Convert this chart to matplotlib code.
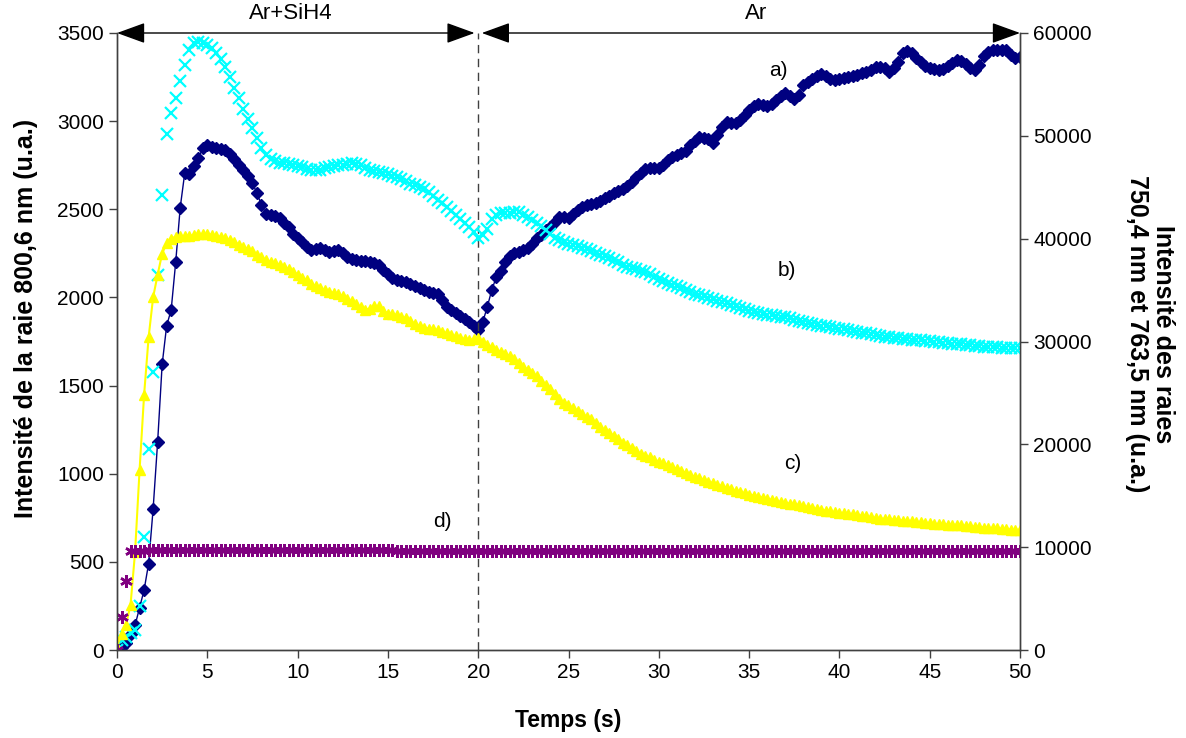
import numpy as np
import matplotlib
matplotlib.use("Agg")
import matplotlib.pyplot as plt

plt.rcParams['font.family'] = ['Liberation Sans', 'DejaVu Sans']

# sampling step of the acquisition (s)
dt = 0.25

# a) raie 800,6 nm (axe de gauche, u.a.)
raie_a = [
    0, 15, 40, 90, 140, 240, 340, 490,
    800, 1180, 1620, 1840, 1930, 2200, 2510, 2705,
    2700, 2745, 2790, 2845, 2862, 2852, 2846, 2842,
    2835, 2815, 2785, 2750, 2722, 2690, 2650, 2590,
    2525, 2475, 2470, 2462, 2450, 2420, 2400, 2360,
    2335, 2315, 2285, 2268, 2275, 2280, 2268, 2260,
    2262, 2268, 2250, 2230, 2220, 2212, 2208, 2204,
    2200, 2196, 2185, 2155, 2133, 2112, 2099, 2094,
    2090, 2078, 2065, 2053, 2040, 2030, 2026, 2018,
    1985, 1948, 1930, 1913, 1896, 1880, 1862, 1840,
    1815, 1860, 1945, 2042, 2115, 2150, 2200, 2235,
    2252, 2260, 2269, 2282, 2305, 2335, 2355, 2380,
    2402, 2430, 2456, 2455, 2450, 2475, 2498, 2512,
    2524, 2528, 2533, 2548, 2565, 2578, 2592, 2604,
    2617, 2630, 2655, 2683, 2705, 2728, 2733, 2733,
    2733, 2750, 2778, 2795, 2808, 2820, 2833, 2862,
    2890, 2910, 2907, 2898, 2877, 2920, 2965, 2996,
    2990, 2992, 3007, 3035, 3065, 3085, 3100, 3090,
    3085, 3100, 3118, 3145, 3160, 3140, 3125, 3150,
    3205, 3222, 3240, 3255, 3270, 3258, 3240, 3234,
    3238, 3243, 3250, 3256, 3263, 3272, 3280, 3292,
    3305, 3309, 3300, 3280, 3300, 3337, 3385, 3400,
    3385, 3360, 3335, 3315, 3300, 3296, 3290, 3298,
    3312, 3330, 3345, 3340, 3322, 3300, 3290, 3320,
    3370, 3395, 3404, 3406, 3404, 3402, 3378, 3357,
    3364,
]

# b) raie 750,4 nm (axe de droite, u.a.)
raie_b = [
    0, 1000, 1300, 1650, 1950, 4300, 11000, 19500,
    27000, 36500, 44200, 50200, 52200, 53700, 55300, 56900,
    58300, 59000, 59150, 59050, 58800, 58500, 58050, 57450,
    56650, 55700, 54650, 53700, 52650, 51600, 50750, 49750,
    48850, 48100, 47750, 47530, 47400, 47320, 47220, 47150,
    47050, 46950, 46780, 46680, 46650, 46680, 46830, 46980,
    47050, 47130, 47200, 47300, 47330, 47250, 47130, 46900,
    46700, 46600, 46520, 46400, 46260, 46110, 45960, 45800,
    45580, 45360, 45220, 45070, 44800, 44520, 44180, 43800,
    43420, 43070, 42720, 42350, 41960, 41530, 41090, 40620,
    40100, 40400, 40900, 41900, 42350, 42450, 42460, 42500,
    42580, 42550, 42300, 42070, 41800, 41520, 41200, 40880,
    40470, 40050, 39850, 39650, 39500, 39390, 39250, 39100,
    38950, 38800, 38650, 38460, 38280, 38100, 37910, 37720,
    37440, 37260, 37150, 37020, 36880, 36720, 36550, 36320,
    36050, 35870, 35700, 35530, 35350, 35170, 34990, 34800,
    34650, 34510, 34380, 34250, 34110, 33980, 33850, 33710,
    33570, 33430, 33290, 33150, 33000, 32870, 32770, 32690,
    32620, 32550, 32480, 32420, 32360, 32250, 32130, 32020,
    31910, 31800, 31700, 31600, 31530, 31460, 31390, 31320,
    31250, 31190, 31130, 31050, 30960, 30870, 30780, 30690,
    30600, 30510, 30450, 30400, 30360, 30320, 30280, 30240,
    30190, 30150, 30110, 30060, 30010, 29970, 29920, 29880,
    29840, 29800, 29750, 29710, 29660, 29620, 29580, 29530,
    29490, 29470, 29450, 29420, 29400, 29380, 29360, 29340,
    29330,
]

# c) raie 763,5 nm (axe de droite, u.a.)
raie_c = [
    300, 1600, 2450, 4400, 9500, 17500, 24800, 30400,
    34300, 36500, 38550, 39550, 40000, 40200, 40260, 40250,
    40260, 40320, 40420, 40450, 40450, 40380, 40280, 40170,
    40020, 39880, 39650, 39430, 39210, 39000, 38780, 38450,
    38180, 37950, 37740, 37600, 37450, 37250, 37030, 36800,
    36500, 36200, 35950, 35600, 35380, 35170, 35000, 34860,
    34720, 34580, 34390, 34160, 33920, 33620, 33350, 33100,
    33200, 33450, 33450, 33000, 32720, 32650, 32570, 32420,
    32270, 32000, 31700, 31500, 31360, 31250, 31180, 31100,
    30950, 30800, 30650, 30500, 30370, 30200, 30150, 30230,
    30300, 30000, 29700, 29450, 29200, 29000, 28800, 28550,
    28250, 27900, 27550, 27250, 26950, 26600, 26150, 25800,
    25350, 24850, 24380, 24050, 23800, 23530, 23250, 22950,
    22680, 22420, 22080, 21720, 21400, 21100, 20830, 20500,
    20170, 19900, 19620, 19330, 19080, 18900, 18720, 18520,
    18330, 18160, 17980, 17800, 17600, 17420, 17230, 17030,
    16850, 16680, 16520, 16360, 16220, 16080, 15930, 15780,
    15630, 15480, 15350, 15230, 15120, 15010, 14920, 14810,
    14700, 14590, 14470, 14380, 14300, 14230, 14160, 14090,
    13980, 13880, 13790, 13700, 13620, 13540, 13470, 13390,
    13330, 13290, 13240, 13180, 13130, 13070, 12990, 12910,
    12840, 12780, 12740, 12700, 12660, 12630, 12590, 12550,
    12510, 12480, 12430, 12370, 12310, 12260, 12240, 12220,
    12200, 12180, 12160, 12110, 12070, 12030, 11990, 11950,
    11910, 11880, 11850, 11820, 11780, 11740, 11710, 11670,
    11640,
]

# d) (axe de droite, u.a.)
raie_d = [
    0, 3200, 6700, 9600, 9650, 9660, 9670, 9680,
    9690, 9700, 9700, 9710, 9710, 9720, 9720, 9720,
    9730, 9730, 9730, 9740, 9740, 9740, 9740, 9740,
    9740, 9740, 9740, 9730, 9730, 9730, 9730, 9730,
    9720, 9720, 9720, 9720, 9710, 9710, 9710, 9710,
    9710, 9700, 9700, 9700, 9700, 9700, 9700, 9690,
    9690, 9690, 9690, 9690, 9690, 9690, 9680, 9680,
    9680, 9680, 9680, 9680, 9680, 9680, 9670, 9670,
    9670, 9670, 9670, 9670, 9670, 9670, 9670, 9660,
    9660, 9660, 9660, 9660, 9660, 9660, 9660, 9660,
    9660, 9660, 9650, 9650, 9650, 9650, 9650, 9650,
    9650, 9650, 9650, 9650, 9650, 9650, 9650, 9650,
    9650, 9650, 9640, 9640, 9640, 9640, 9640, 9640,
    9640, 9640, 9640, 9640, 9640, 9640, 9640, 9640,
    9640, 9640, 9640, 9640, 9640, 9640, 9640, 9640,
    9640, 9640, 9640, 9630, 9630, 9630, 9630, 9630,
    9630, 9630, 9630, 9630, 9630, 9630, 9630, 9630,
    9630, 9630, 9630, 9630, 9630, 9630, 9630, 9630,
    9630, 9630, 9630, 9630, 9630, 9630, 9630, 9630,
    9630, 9630, 9630, 9630, 9630, 9630, 9630, 9630,
    9620, 9620, 9620, 9620, 9620, 9620, 9620, 9620,
    9620, 9620, 9620, 9620, 9620, 9620, 9620, 9620,
    9620, 9620, 9620, 9620, 9620, 9620, 9620, 9620,
    9620, 9620, 9620, 9620, 9620, 9620, 9620, 9620,
    9620, 9620, 9620, 9620, 9620, 9620, 9620, 9620,
    9620,
]

temps = np.arange(len(raie_a)) * dt

fs = 15
fig = plt.figure(figsize=(11.86, 7.38), dpi=100)
ax = fig.add_axes([117 / 1186, 1 - 650 / 738, 903 / 1186, 617 / 738])
ax2 = ax.twinx()

ax.plot(temps, raie_a, color='#000080', lw=1, marker='D', ms=6, mec='#000080')
ax2.plot(temps, raie_b, ls='none', color='#00FFFF', marker='x', ms=8, mew=1.6)
ax2.plot(temps, raie_c, color='#FFFF00', lw=1.5, marker='^', ms=7.5)
ax2.plot(temps, raie_d, ls='none', color='#800080', marker=(6, 2, 0), ms=9, mew=1.8)

ax.set_xlim(0, 50)
ax.set_ylim(0, 3500)
ax2.set_ylim(0, 60000)
ax.set_xticks(np.arange(0, 51, 5))
ax.set_yticks(np.arange(0, 3501, 500))
ax2.set_yticks(np.arange(0, 60001, 10000))

for a in (ax, ax2):
    a.spines['top'].set_visible(False)
    for s in a.spines.values():
        s.set_linewidth(1)
        s.set_color('#404040')
    a.tick_params(labelsize=fs, length=6, width=1, color='#404040')

ax.axvline(20, color='#404040', ls=(0, (6, 4)), lw=1)

# phases
arr = dict(arrowstyle='<|-|>,head_length=1.1,head_width=0.4', color='black',
           lw=1, shrinkA=0, shrinkB=0, mutation_scale=16)
ax.annotate('', xy=(0, 3500), xytext=(19.8, 3500), arrowprops=arr, annotation_clip=False)
ax.annotate('', xy=(20.2, 3500), xytext=(50, 3500), arrowprops=arr, annotation_clip=False)
ax.text(9.6, 3500 + 108, 'Ar+SiH4', ha='center', va='center', fontsize=16)
ax.text(35.4, 3500 + 108, 'Ar', ha='center', va='center', fontsize=16)

# curve labels
ax.text(36.6, 3290, 'a)', fontsize=fs, ha='center', va='center')
ax.text(37.1, 2150, 'b)', fontsize=fs, ha='center', va='center')
ax.text(37.4, 1060, 'c)', fontsize=fs, ha='center', va='center')
ax.text(18.0, 730, 'd)', fontsize=fs, ha='center', va='center')

fig.text(568 / 1186, 1 - 721 / 738, 'Temps (s)', fontsize=16.5, fontweight='bold',
         ha='center', va='center')
fig.text(26 / 1186, 1 - 318 / 738, 'Intensité de la raie 800,6 nm (u.a.)', fontsize=18,
         fontweight='bold', rotation=90, ha='center', va='center')
fig.text(1150 / 1186, 1 - 334 / 738, 'Intensité des raies\n750,4 nm et 763,5 nm (u.a.)',
         fontsize=18, fontweight='bold', rotation=270, ha='center', va='center',
         multialignment='center', linespacing=1.1)

fig.savefig('out.png', dpi=100)
